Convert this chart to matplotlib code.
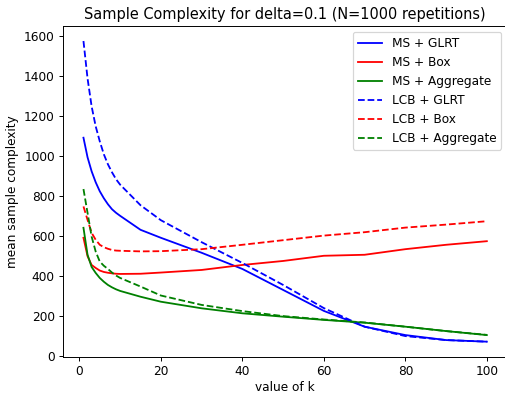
import matplotlib
matplotlib.use('Agg')
import matplotlib.pyplot as plt

k_values = [1, 2, 3, 4, 5, 6, 7, 8, 9, 10, 15, 20, 30, 40, 50, 60, 70, 80, 90, 100]

ms_glrt = [1093, 995, 925, 870, 825, 790, 760, 735, 717, 702,
           632, 592, 517, 436, 331, 226, 147, 105, 80, 72]
ms_box = [592, 500, 456, 441, 428, 421, 417, 414, 412, 411,
          412, 418, 431, 456, 476, 502, 507, 535, 557, 575]
ms_agg = [642, 507, 446, 416, 391, 372, 356, 344, 334, 326,
          297, 272, 239, 214, 197, 181, 167, 147, 125, 105]
lcb_glrt = [1577, 1390, 1250, 1150, 1075, 1010, 960, 920, 885, 858,
            755, 680, 570, 466, 356, 240, 147, 100, 80, 72]
lcb_box = [749, 682, 617, 582, 557, 545, 537, 531, 528, 527,
           524, 525, 535, 557, 580, 603, 620, 643, 658, 675]
lcb_agg = [836, 717, 598, 523, 473, 452, 436, 418, 403, 391,
           348, 303, 256, 225, 200, 183, 168, 147, 125, 106]

DPI = 87


def main():
    fig = plt.figure(figsize=(505 / DPI, 393 / DPI), dpi=DPI)
    ax = fig.add_axes([63.3 / 505, (393 - 356.7) / 393, (507 - 63.3) / 505, (356.7 - 26) / 393])
    ax.plot(k_values, ms_glrt, color='b', label='MS + GLRT')
    ax.plot(k_values, ms_box, color='r', label='MS + Box')
    ax.plot(k_values, ms_agg, color='g', label='MS + Aggregate')
    ax.plot(k_values, lcb_glrt, color='b', linestyle='--', label='LCB + GLRT')
    ax.plot(k_values, lcb_box, color='r', linestyle='--', label='LCB + Box')
    ax.plot(k_values, lcb_agg, color='g', linestyle='--', label='LCB + Aggregate')
    ax.set_xlabel('value of k', labelpad=2)
    ax.set_ylabel('mean sample complexity')
    ax.set_title('Sample Complexity for delta=0.1 (N=1000 repetitions)')
    ax.legend(loc='upper right')
    fig.savefig('out.png', dpi=DPI)


if __name__ == '__main__':
    main()
